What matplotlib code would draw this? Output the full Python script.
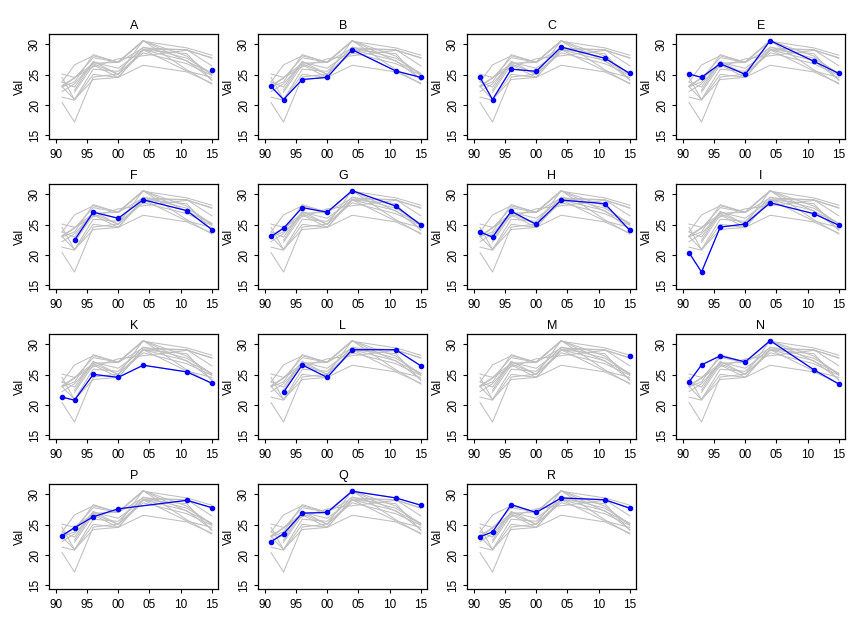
import numpy as np
import matplotlib
matplotlib.use("Agg")
import matplotlib.pyplot as plt

plt.rcParams['font.family'] = ['Liberation Sans', 'DejaVu Sans']

# years of the survey points
years = [1991, 1993, 1996, 2000, 2004, 2011, 2015]
nan = np.nan

# one list per panel
A = [nan, nan, nan, nan, nan, nan, 25.8]
B = [23.05, 20.9, 24.2, 24.55, 29.1, 25.6, 24.55]
C = [24.55, 20.9, 25.9, 25.55, 29.55, 27.7, 25.2]
E = [25.1, 24.55, 26.8, 25.05, 30.6, 27.2, 25.2]
F = [nan, 22.45, 27.05, 26.05, 29.1, 27.3, 24.2]
G = [23.05, 24.4, 27.8, 27.05, 30.6, 28.05, 24.95]
H = [23.8, 22.95, 27.2, 25.05, 29.05, 28.45, 24.05]
I = [20.4, 17.2, 24.6, 25.1, 28.6, 26.8, 24.9]
K = [21.3, 20.8, 25.05, 24.55, 26.55, 25.45, 23.6]
L = [nan, 22.1, 26.6, 24.55, 29.1, 29.1, 26.45]
M = [nan, nan, nan, nan, nan, nan, 28.1]
N = [23.8, 26.6, 28.1, 27.1, 30.6, 25.8, 23.45]
P = [23.2, 24.5, 26.3, 27.6, nan, 29.0, 27.8]
Q = [22.2, 23.5, 26.9, 27.0, 30.5, 29.4, 28.2]
R = [23.0, 23.8, 28.3, 27.0, 29.4, 29.1, 27.7]

names = ['A', 'B', 'C', 'E', 'F', 'G', 'H', 'I', 'K', 'L', 'M', 'N', 'P', 'Q', 'R']
series = [A, B, C, E, F, G, H, I, K, L, M, N, P, Q, R]

xticks = [1990, 1995, 2000, 2005, 2010, 2015]
xlabels = ['90', '95', '00', '05', '10', '15']
yticks = [15, 20, 25, 30]

W, Hpx = 864, 629
fig = plt.figure(figsize=(W / 100, Hpx / 100), dpi=100)

def valid(vals):
    x = np.array(years, dtype=float)
    y = np.array(vals, dtype=float)
    ok = ~np.isnan(y)
    return x[ok], y[ok]

for i, (name, vals) in enumerate(zip(names, series)):
    r, c = divmod(i, 4)
    left = 49.3 + 209 * c
    top = 34.3 + 150 * r
    ax = fig.add_axes([left / W, 1 - (top + 105) / Hpx, 169 / W, 105 / Hpx])

    # all series in grey
    for other in series:
        gx, gy = valid(other)
        ax.plot(gx, gy, color='#BEBEBE', lw=0.75, zorder=1)

    bx, by = valid(vals)
    ax.plot(bx, by, color='blue', lw=0.9, marker='o', ms=3.0, zorder=3)

    ax.set_xlim(1988.96, 2016.04)
    ax.set_ylim(14.36, 31.64)
    ax.set_xticks(xticks)
    ax.set_xticklabels(xlabels)
    ax.set_yticks(yticks)
    ax.tick_params(direction='out', length=3, width=0.8, labelsize=8.5, pad=3)
    ax.tick_params(axis='x', pad=4)
    ax.tick_params(axis='y', labelrotation=90)
    for lbl in ax.get_yticklabels():
        lbl.set_va('center')
    ax.set_ylabel('Val', fontsize=8.5, labelpad=2)
    ax.set_title(name, fontsize=9, pad=3.5)
    for s in ax.spines.values():
        s.set_linewidth(0.9)

fig.savefig('out.png', dpi=100)
